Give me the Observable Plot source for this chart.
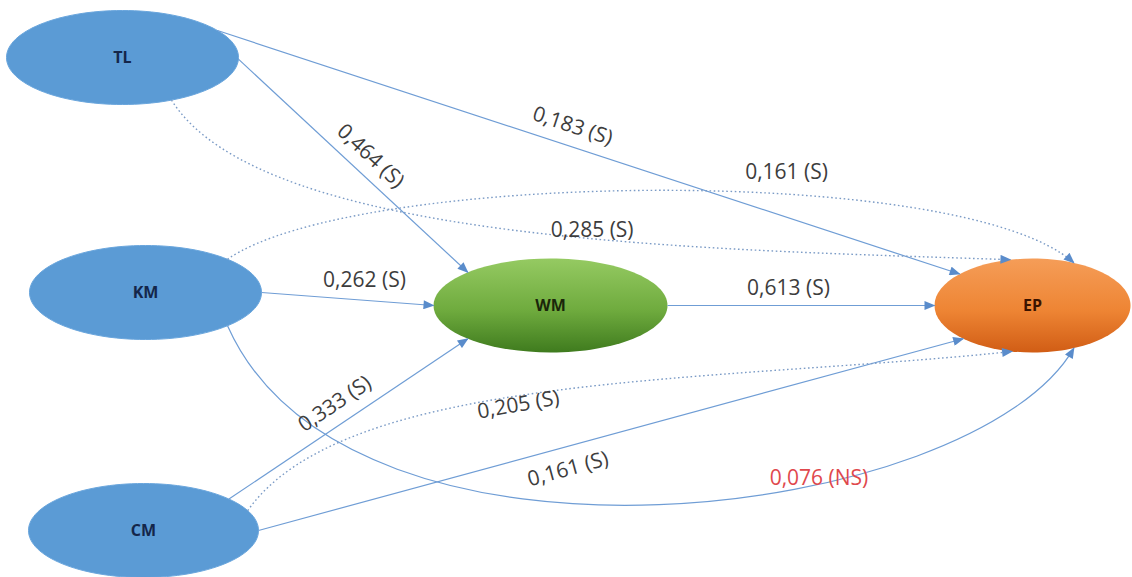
<!DOCTYPE html>
<html>
<head>
<meta charset="utf-8">
<script src="https://cdn.jsdelivr.net/npm/d3@7"></script>
<script src="https://cdn.jsdelivr.net/npm/@observablehq/plot@0.6"></script>
<style>
  html, body { margin: 0; padding: 0; background: #ffffff; }
  #chart { width: 1132px; height: 577px; overflow: hidden; }
</style>
</head>
<body>
<div id="chart"></div>
<script>
// ---------------- data ----------------
const nodeNames = ["TL", "KM", "CM", "WM", "EP"];
const nodeX = [122, 145, 143, 550, 1032];   // layout of the path diagram
const nodeY = [57, 292, 530, 305, 305];

const edgeFrom = ["TL", "TL", "KM", "KM", "KM", "WM", "CM", "CM", "CM", "TL"];
const edgeTo   = ["WM", "EP", "WM", "EP", "EP", "EP", "WM", "EP", "EP", "EP"];
const edgeCoef = ["0,464", "0,183", "0,262", "0,161", "0,076", "0,613", "0,333", "0,161", "0,205", "0,285"];
const edgeSig  = ["S", "S", "S", "S", "NS", "S", "S", "S", "S", "S"];
const edgeType = ["direct", "direct", "direct", "indirect", "direct", "direct", "direct", "direct", "indirect", "indirect"];

// ---------------- styles ----------------
const W = 1132, H = 577;
const FONT = "'Open Sans', 'Noto Sans', sans-serif";
const nodeStyle = {
  TL: {rx: 116, ry: 47, fill: "#5b9bd5", ink: "#14264a"},
  KM: {rx: 116, ry: 47, fill: "#5b9bd5", ink: "#14264a"},
  CM: {rx: 115, ry: 47, fill: "#5b9bd5", ink: "#14264a"},
  WM: {rx: 117, ry: 47, fill: "url(#gradWM)", ink: "#1a260a"},
  EP: {rx: 98,  ry: 47, fill: "url(#gradEP)", ink: "#3a1300"}
};
// ports: parametric angle on the source / target ellipse; c0/c1: bezier handles [screen angle, length]
const routing = [
  {p0: -2,  p1: 135, label: {t: 0.52,  d: 19,  rot: "chord"}},
  {p0: 35,  p1: 138, label: {t: 0.47,  d: 20,  rot: "chord"}},
  {p0: 0,   p1: 180, label: {t: 0.59,  d: 20,  rot: 0}},
  {p0: 45,  p1: 65,  c0: [-35, 154], c1: [42, 150], label: {t: 0.62, d: 22, rot: 0}},
  {p0: -45, p1: -65, c0: [66, 300],  c1: [-60, 200], label: {t: 0.65, d: 6, rot: 0}},
  {p0: 0,   p1: 180, label: {t: 0.453, d: 17,  rot: 0}},
  {p0: 42,  p1: 225, label: {t: 0.49,  d: 20,  rot: "chord"}},
  {p0: 0,   p1: 225, label: {t: 0.431, d: -22, rot: "chord"}},
  {p0: 25,  p1: 258, c0: [-55, 170], c1: [-6, 300], label: {t: 0.455, d: -9, rot: -10}},
  {p0: -65, p1: 103, c0: [58, 170],  c1: [2, 300],  label: {t: 0.58, d: 8, rot: 0}}
];

// ---------------- derived tables ----------------
const nodes = nodeNames.map((name, i) => ({name, x: nodeX[i], y: nodeY[i]}));
const nodeBy = Object.fromEntries(nodes.map(n => [n.name, n]));
const rad = a => a * Math.PI / 180;
function port(name, a) {
  const n = nodeBy[name], s = nodeStyle[name];
  return [n.x + s.rx * Math.cos(rad(a)), n.y - s.ry * Math.sin(rad(a))];
}
const edges = edgeFrom.map((f, i) => {
  const r = routing[i];
  const P0 = port(f, r.p0), P3 = port(edgeTo[i], r.p1);
  let C1 = null, C2 = null;
  if (r.c0) {
    C1 = [P0[0] + r.c0[1] * Math.cos(rad(r.c0[0])), P0[1] + r.c0[1] * Math.sin(rad(r.c0[0]))];
    C2 = [P3[0] - r.c1[1] * Math.cos(rad(r.c1[0])), P3[1] - r.c1[1] * Math.sin(rad(r.c1[0]))];
  }
  return {from: f, to: edgeTo[i], coef: edgeCoef[i], sig: edgeSig[i], type: edgeType[i],
          x1: P0[0], y1: P0[1], x2: P3[0], y2: P3[1], P0, P3, C1, C2, r};
});

function pointAt(e, t) {
  const {P0, P3, C1, C2} = e;
  if (!C1) return {p: [P0[0] + t * (P3[0] - P0[0]), P0[1] + t * (P3[1] - P0[1])], d: [P3[0] - P0[0], P3[1] - P0[1]]};
  const u = 1 - t;
  const p = [0, 1].map(k => u*u*u*P0[k] + 3*u*u*t*C1[k] + 3*u*t*t*C2[k] + t*t*t*P3[k]);
  const d = [0, 1].map(k => 3*u*u*(C1[k]-P0[k]) + 6*u*t*(C2[k]-C1[k]) + 3*t*t*(P3[k]-C2[k]));
  return {p, d};
}
const labels = edges.map(e => {
  const {t, d, rot} = e.r.label;
  const {p, d: tan} = pointAt(e, t);
  const len = Math.hypot(tan[0], tan[1]);
  const nx = tan[1] / len, ny = -tan[0] / len;
  const chord = Math.atan2(e.y2 - e.y1, e.x2 - e.x1) * 180 / Math.PI;
  return {x: p[0] + d * nx, y: p[1] + d * ny, text: `${e.coef} (${e.sig})`,
          rotate: rot === "chord" ? chord : rot, color: e.sig === "NS" ? "#e0484c" : "#3d3d3d"};
});

// custom cubic-bezier curve for Plot.link, handles given as [angle, length]
function bezierCurve(c0, c1) {
  return (context) => {
    let pts = [];
    return {
      areaStart() {}, areaEnd() {},
      lineStart() { pts = []; },
      point(x, y) { pts.push([+x, +y]); },
      lineEnd() {
        const [a, b] = [pts[0], pts[pts.length - 1]];
        context.moveTo(a[0], a[1]);
        context.bezierCurveTo(
          a[0] + c0[1] * Math.cos(rad(c0[0])), a[1] + c0[1] * Math.sin(rad(c0[0])),
          b[0] - c1[1] * Math.cos(rad(c1[0])), b[1] - c1[1] * Math.sin(rad(c1[0])),
          b[0], b[1]);
      }
    };
  };
}
function ellipseSymbol(rx, ry) {
  const k = 0.5522847;
  return {draw(ctx) {
    ctx.moveTo(rx, 0);
    ctx.bezierCurveTo(rx, k * ry, k * rx, ry, 0, ry);
    ctx.bezierCurveTo(-k * rx, ry, -rx, k * ry, -rx, 0);
    ctx.bezierCurveTo(-rx, -k * ry, -k * rx, -ry, 0, -ry);
    ctx.bezierCurveTo(k * rx, -ry, rx, -k * ry, rx, 0);
    ctx.closePath();
  }};
}

// ---------------- marks ----------------
const nodeMarks = nodes.map(n => {
  const s = nodeStyle[n.name];
  return Plot.dot([n], {x: "x", y: "y", r: s.ry, symbol: ellipseSymbol(s.rx, s.ry),
    fill: s.fill, stroke: s.fill.startsWith("#") ? "#6aa6dd" : "none", strokeWidth: 1});
});
const linkMarks = edges.map(e => Plot.link([e], {
  x1: "x1", y1: "y1", x2: "x2", y2: "y2",
  curve: e.C1 ? bezierCurve(e.r.c0, e.r.c1) : "linear",
  stroke: e.type === "indirect" ? "#7b9bc6" : "#6f9dd5",
  strokeWidth: e.type === "indirect" ? 1.4 : 1.2,
  strokeDasharray: e.type === "indirect" ? "1.6,2.6" : null,
  markerEnd: "arrow"
}));

const svg = Plot.plot({
  width: W, height: H, margin: 0,
  x: {domain: [0, W], range: [0, W], axis: null},
  y: {domain: [0, H], range: [0, H], axis: null},
  style: {background: "#ffffff"},
  marks: [
    ...nodeMarks,
    ...linkMarks,
    Plot.text(labels, {x: "x", y: "y", text: "text", rotate: "rotate", fill: "color",
      fontSize: 21, fontFamily: FONT}),
    Plot.text(nodes, {x: "x", y: "y", text: "name", fill: d => nodeStyle[d.name].ink,
      fontSize: 16, fontWeight: "bold", fontFamily: FONT})
  ]
});

// gradients for the WM / EP ellipses
const defs = d3.select(svg).insert("defs", ":first-child");
const gWM = defs.append("linearGradient").attr("id", "gradWM").attr("x1", 0).attr("y1", 0).attr("x2", 0).attr("y2", 1);
[["0%", "#95ca62"], ["55%", "#6fab3e"], ["100%", "#3f7b1e"]].forEach(([o, c]) => gWM.append("stop").attr("offset", o).attr("stop-color", c));
const gEP = defs.append("linearGradient").attr("id", "gradEP").attr("x1", 0).attr("y1", 0).attr("x2", 0).attr("y2", 1);
[["0%", "#f59d58"], ["55%", "#ee8534"], ["100%", "#d15d15"]].forEach(([o, c]) => gEP.append("stop").attr("offset", o).attr("stop-color", c));

// filled triangular arrowheads
d3.select(svg).selectAll("marker").each(function () {
  const m = d3.select(this);
  m.attr("viewBox", "-11 -4.5 12 9").attr("markerWidth", 12).attr("markerHeight", 9)
   .attr("markerUnits", "userSpaceOnUse").attr("fill", "#5a8ccb").attr("stroke", "none");
  m.selectAll("*").remove();
  m.append("path").attr("d", "M-10,-4.5L1,0L-10,4.5Z");
});

document.getElementById("chart").appendChild(svg);
</script>
</body>
</html>
